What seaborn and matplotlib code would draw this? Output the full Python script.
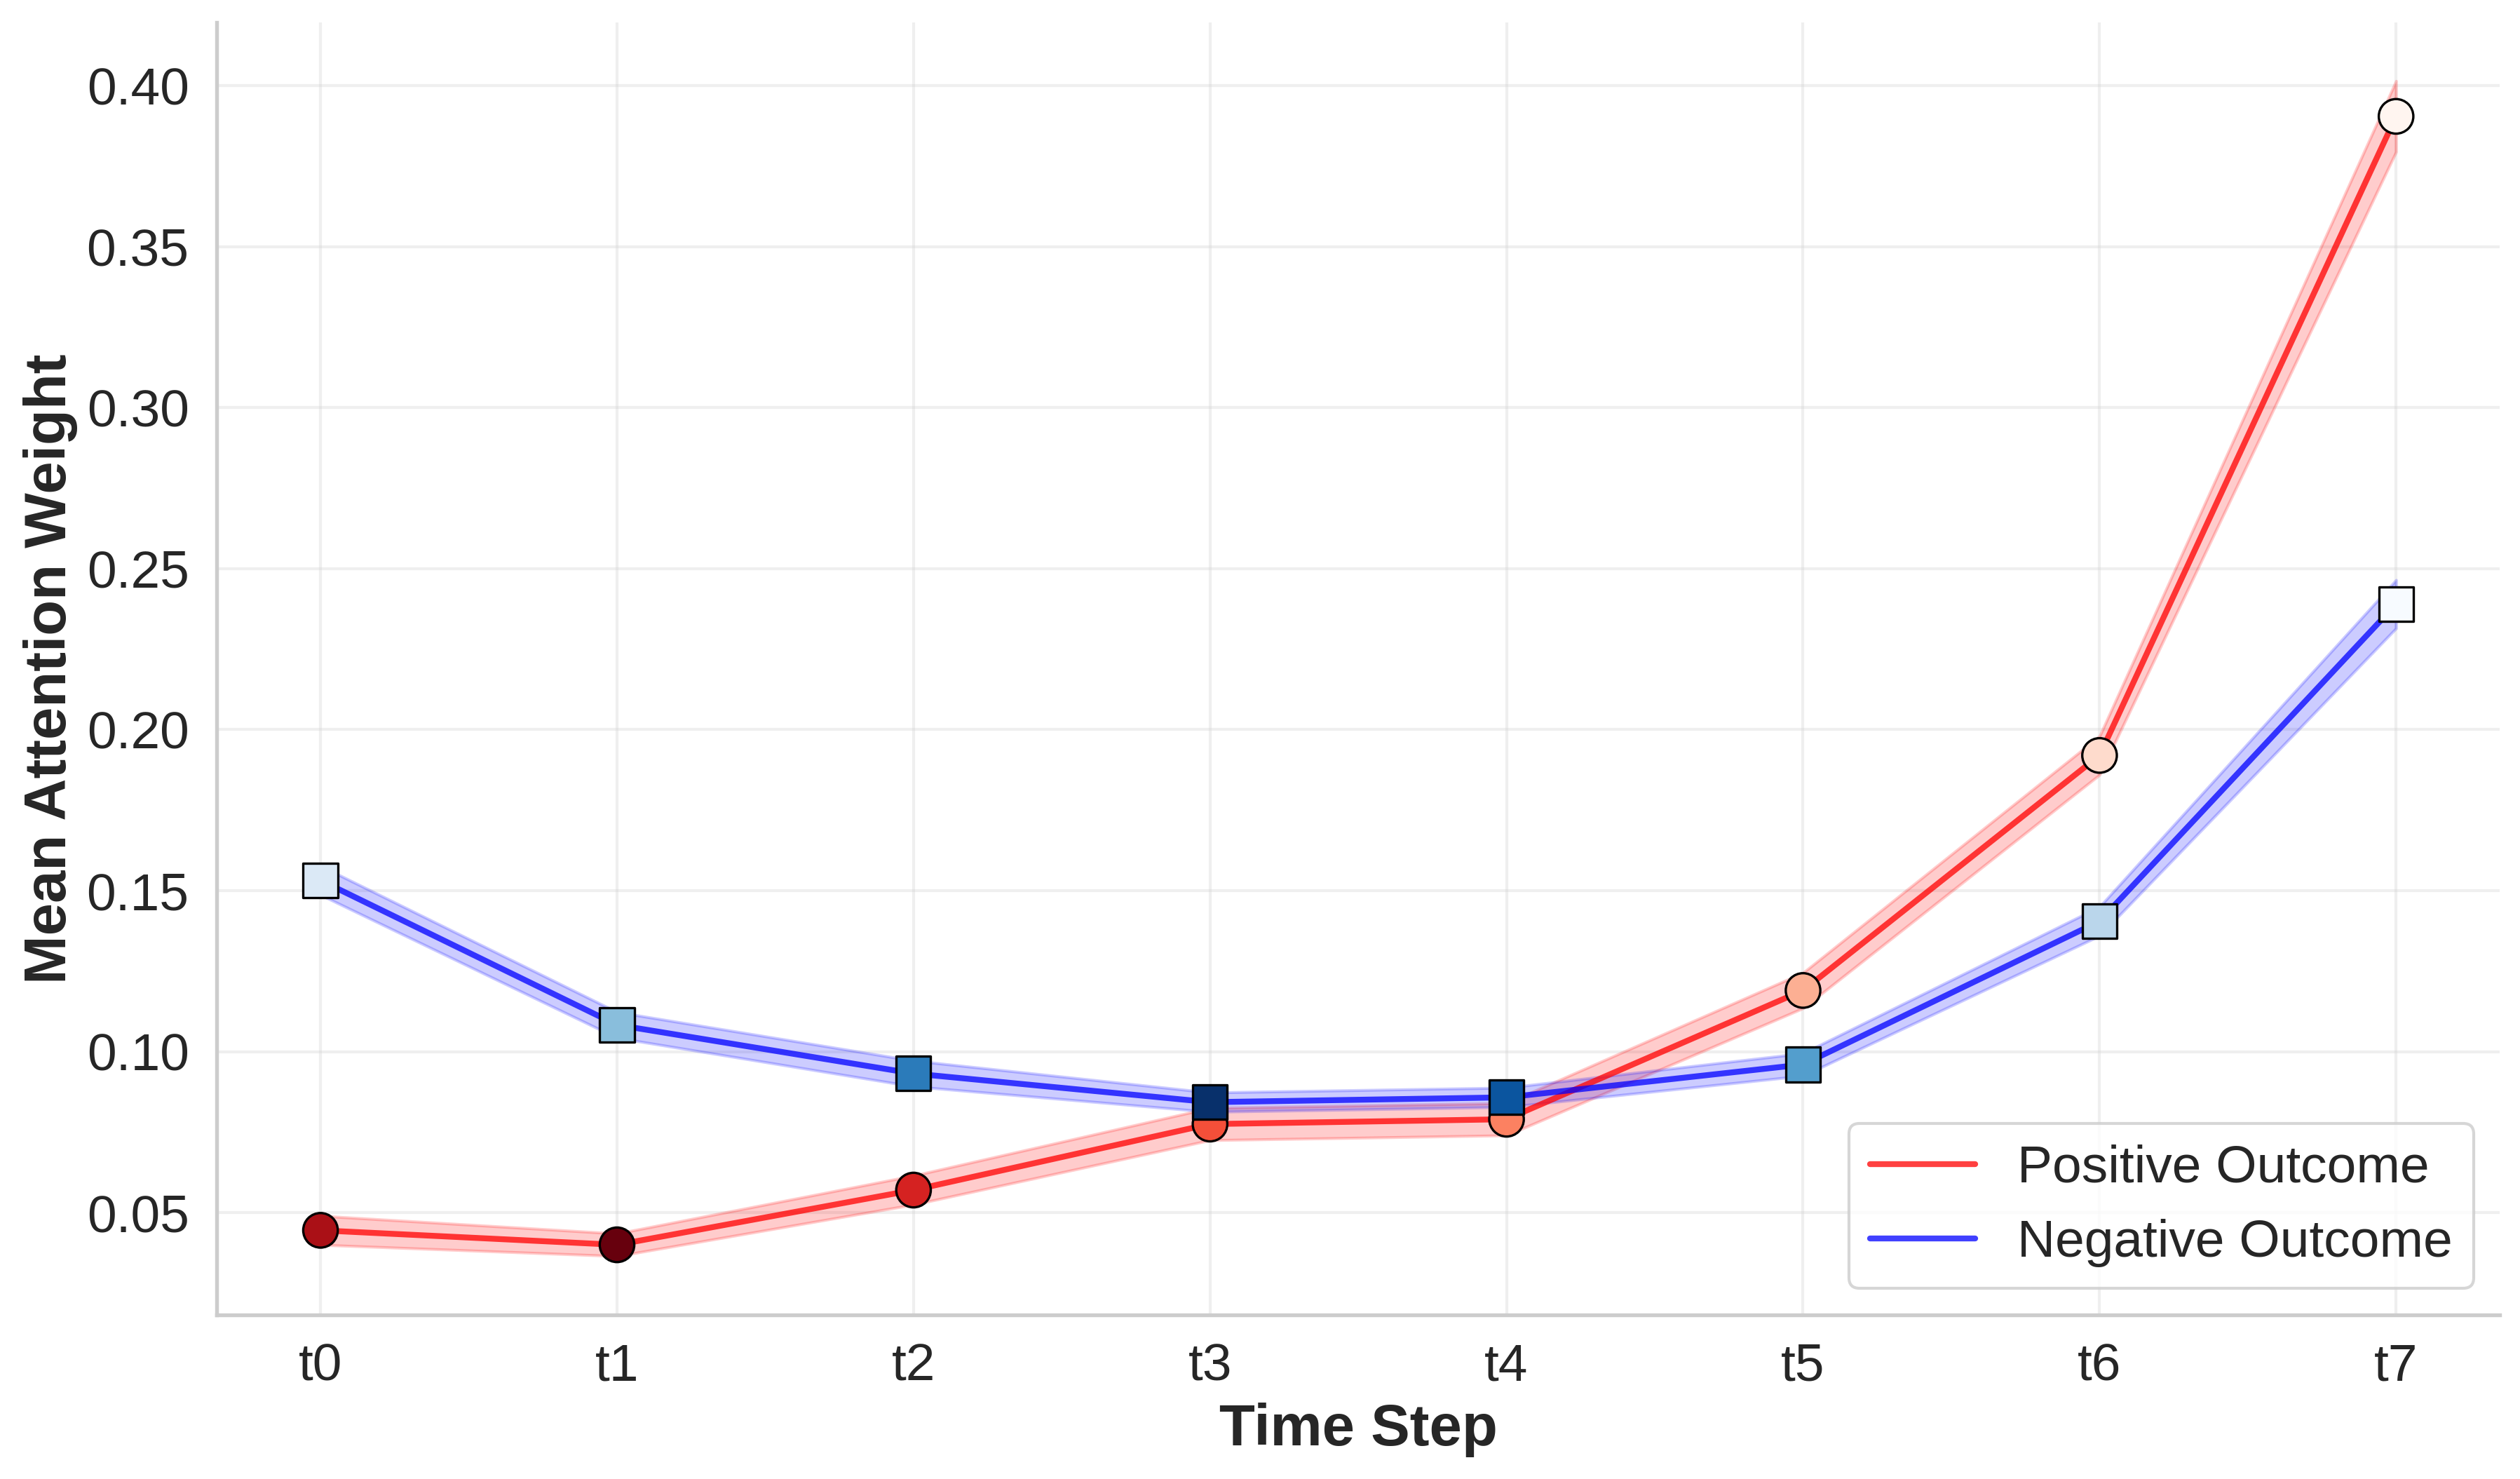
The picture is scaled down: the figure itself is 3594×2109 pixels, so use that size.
import numpy as np
import pandas as pd
import matplotlib
matplotlib.use('Agg')
import matplotlib.pyplot as plt
import seaborn as sns

# values
time_steps = ['t0', 't1', 't2', 't3', 't4', 't5', 't6', 't7']
pos_mean = [0.0445, 0.0400, 0.0570, 0.0775, 0.0790, 0.1190, 0.1920, 0.3905]
pos_err = [0.0045, 0.0035, 0.0045, 0.0050, 0.0050, 0.0055, 0.0060, 0.0110]
neg_mean = [0.1532, 0.1083, 0.0932, 0.0843, 0.0858, 0.0960, 0.1405, 0.2390]
neg_err = [0.0045, 0.0040, 0.0040, 0.0030, 0.0030, 0.0035, 0.0045, 0.0075]

sns.set_theme(style='whitegrid')
plt.rcParams['font.family'] = ['Liberation Sans', 'DejaVu Sans']

x = np.arange(len(time_steps))
df = pd.DataFrame({
    'step': list(x) * 2,
    'weight': pos_mean + neg_mean,
    'outcome': ['Positive Outcome'] * len(x) + ['Negative Outcome'] * len(x),
})

fig, ax = plt.subplots(figsize=(11.98, 7.03), dpi=300)
fig.subplots_adjust(left=0.086, right=0.992, bottom=0.111, top=0.985)

sns.lineplot(data=df, x='step', y='weight', hue='outcome',
             palette={'Positive Outcome': 'red', 'Negative Outcome': 'blue'},
             linewidth=2, alpha=0.75, ax=ax)

lo = np.array(pos_mean) - np.array(pos_err)
hi = np.array(pos_mean) + np.array(pos_err)
ax.fill_between(x, lo, hi, color='red', alpha=0.2)
lo = np.array(neg_mean) - np.array(neg_err)
hi = np.array(neg_mean) + np.array(neg_err)
ax.fill_between(x, lo, hi, color='blue', alpha=0.2)

# markers coloured by the rank of their value
pos_rank = pd.Series(pos_mean).rank().values
neg_rank = pd.Series(neg_mean).rank().values
sns.scatterplot(x=x, y=pos_mean, hue=pos_rank, palette='Reds_r', marker='o',
                s=140, edgecolor='black', linewidth=0.8, legend=False, zorder=5, ax=ax)
sns.scatterplot(x=x, y=neg_mean, hue=neg_rank, palette='Blues_r', marker='s',
                s=140, edgecolor='black', linewidth=0.8, legend=False, zorder=6, ax=ax)

ax.set_xticks(x)
ax.set_xticklabels(time_steps)
ax.set_xlabel('Time Step', fontsize=20, fontweight='bold', labelpad=4)
ax.set_ylabel('Mean Attention Weight', fontsize=20, fontweight='bold', labelpad=3)
ax.tick_params(axis='both', labelsize=18)
ax.grid(True, alpha=0.3)
sns.despine(ax=ax)
for s in ['left', 'bottom']:
    ax.spines[s].set_color('#cccccc')
    ax.spines[s].set_linewidth(1.3)

leg = ax.legend(loc='lower right', fontsize=18, frameon=True, title=None)
leg.get_frame().set_edgecolor('#cccccc')

plt.savefig('out.png', dpi=300)
print('saved out.png')
